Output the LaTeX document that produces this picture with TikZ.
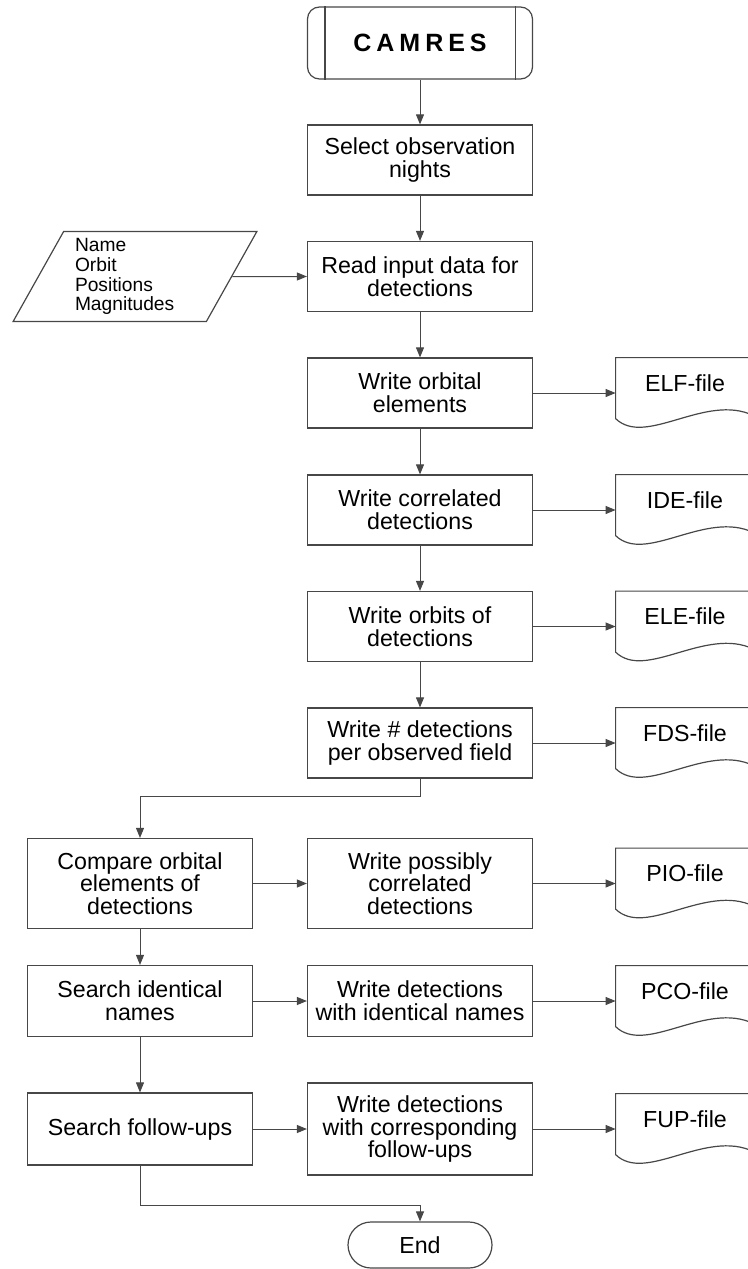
\documentclass[tikz,border=0pt]{standalone}
\usepackage{fontspec}
\setmainfont{Liberation Sans}
\newfontfamily\titlefont[LetterSpace=20]{Liberation Sans}
\usetikzlibrary{shapes.geometric,arrows.meta}
\definecolor{linegray}{gray}{0.28}

\begin{document}
\begin{tikzpicture}
[x=0.5pt,y=-0.5pt,
  boxdecorate/.style={shape=rectangle,draw=linegray,line width=0.6pt,minimum width=112.5pt,inner sep=2pt,align=center,font=\fontsize{11.6}{11.4}\selectfont},%
  startdecorate/.style={boxdecorate,rounded corners=6pt,minimum height=36pt,font=\titlefont\bfseries\fontsize{12.5}{12.5}\selectfont},%
  enddecorate/.style={boxdecorate,rounded corners=11.5pt,minimum width=72pt,minimum height=23pt},%
  datadecorate/.style={shape=trapezium,trapezium left angle=61,trapezium right angle=119,trapezium stretches=true,draw=linegray,line width=0.6pt,minimum width=122pt,minimum height=45pt,inner sep=0pt,text width=60pt,align=left,font=\fontsize{9.6}{9.9}\selectfont},%
  filedecorate/.style={minimum width=69pt,minimum height=25pt,inner sep=0pt,font=\fontsize{11.6}{11.4}\selectfont},%
  arrowdecorate/.style={-{Triangle[length=5pt,width=4pt]},draw=linegray,line width=0.5pt},%
  linedecorate/.style={-,draw=linegray,line width=0.6pt}]
\useasboundingbox (0,0) rectangle (748,1269);
%% start and end
\node (camres) at (420,43) [startdecorate] {CAMRES};
\draw[linedecorate] ([xshift=9pt]camres.north west) -- ([xshift=9pt]camres.south west);
\draw[linedecorate] ([xshift=-9pt]camres.north east) -- ([xshift=-9pt]camres.south east);
\node (finish) at (420,1245) [enddecorate] {End};
%% input data
\node (inputdata) at (135,276.5) [datadecorate] {Name\\Orbit\\Positions\\Magnitudes};
%% process boxes
\foreach \nodename/\x/\y/\h/\text in {select/420/160/35pt/{Select observation\\nights},
  read/420/276.5/35pt/{Read input data for\\detections},
  orbital/420/393/35pt/{Write orbital\\elements},
  correlated/420/510/35pt/{Write correlated\\detections},
  orbits/420/626.5/35pt/{Write orbits of\\detections},
  ndet/420/743/35pt/{Write \# detections\\per observed field},
  compare/140/883.5/45pt/{Compare orbital\\elements of\\detections},
  possible/420/883.5/45pt/{Write possibly\\correlated\\detections},
  identical/140/1001/35.5pt/{Search identical\\names},
  samename/420/1001/35.5pt/{Write detections\\with identical names},
  followups/140/1129/36pt/{Search follow-ups},
  corresp/420/1129/46pt/{Write detections\\with corresponding\\follow-ups}} {
  \node (\nodename) at (\x,\y) [boxdecorate,minimum height=\h] {\text};
}
%% output files
\foreach \nodename/\y/\filename in {elf/393/ELF-file, ide/510/IDE-file,
  ele/626.5/ELE-file, fds/743/FDS-file, pio/883.5/PIO-file,
  pco/1001/PCO-file, fup/1129/FUP-file} {
  \node (\nodename) at (685,\y-10) [filedecorate] {\filename};
  \draw[linedecorate,shift={(\nodename.north west)}] (0,0) -- (138,0) -- (138,58)
    .. controls (90,35) and (30,90) .. (0,61) -- cycle;
}
%% turning points
\coordinate (ndetturn) at (420,796);
\coordinate (followturn) at (140,1205);
%% edges or lines
\path
(camres) edge[arrowdecorate] (select)
(select) edge[arrowdecorate] (read)
(inputdata) edge[arrowdecorate] (read)
(read) edge[arrowdecorate] (orbital)
(orbital) edge[arrowdecorate] (correlated)
(correlated) edge[arrowdecorate] (orbits)
(orbits) edge[arrowdecorate] (ndet)
(orbital) edge[arrowdecorate] (orbital -| elf.west)
(correlated) edge[arrowdecorate] (correlated -| ide.west)
(orbits) edge[arrowdecorate] (orbits -| ele.west)
(ndet) edge[arrowdecorate] (ndet -| fds.west)
(compare) edge[arrowdecorate] (possible)
(possible) edge[arrowdecorate] (possible -| pio.west)
(compare) edge[arrowdecorate] (identical)
(identical) edge[arrowdecorate] (samename)
(samename) edge[arrowdecorate] (samename -| pco.west)
(identical) edge[arrowdecorate] (followups)
(followups) edge[arrowdecorate] (corresp)
(corresp) edge[arrowdecorate] (corresp -| fup.west);
\draw[arrowdecorate] (ndet) -- (ndetturn) -| (compare);
\draw[arrowdecorate] (followups) -- (followturn) -| (finish);
\end{tikzpicture}
\end{document}
